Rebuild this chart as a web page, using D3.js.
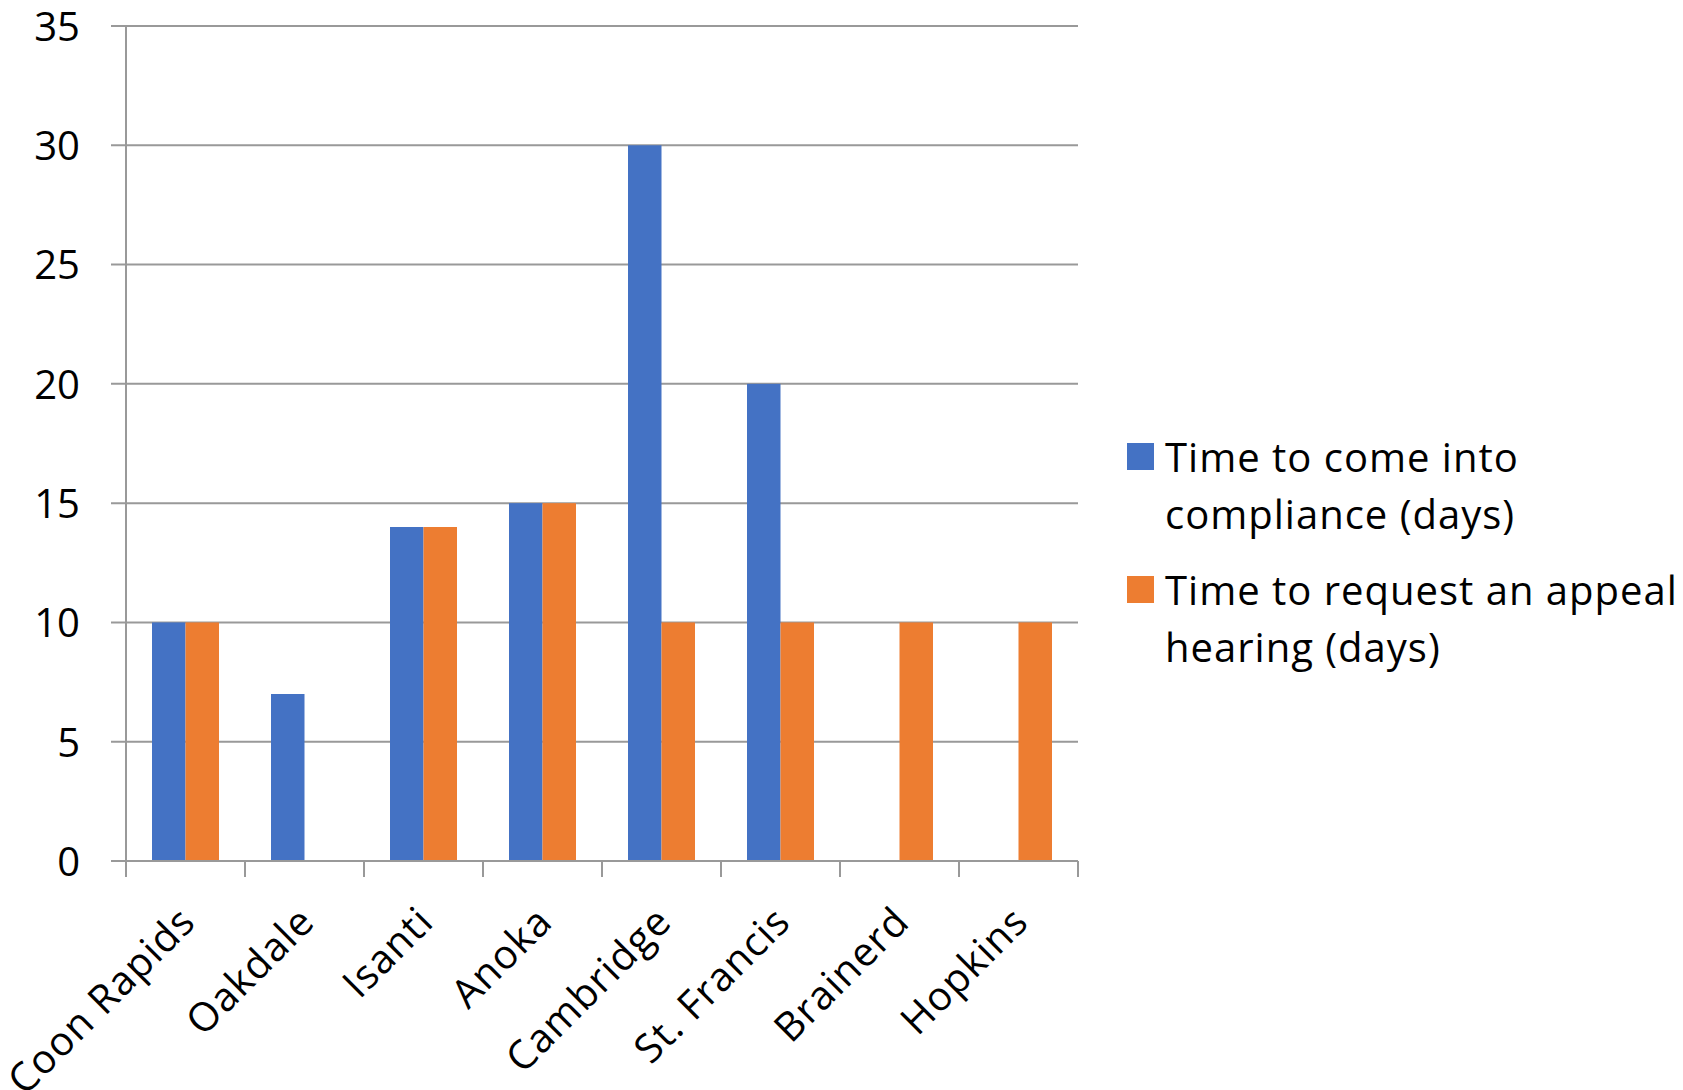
<!DOCTYPE html>
<html>
<head>
<meta charset="utf-8">
<script src="https://cdn.jsdelivr.net/npm/d3@7"></script>
<style>
  html, body { margin: 0; padding: 0; background: #ffffff; }
  svg { display: block; }
  text { font-family: "Open Sans", "Noto Sans", sans-serif; fill: #000; }
</style>
</head>
<body>
<svg id="chart" width="1683" height="1090"></svg>
<script>
// Cities along the horizontal axis
const cities = ["Coon Rapids", "Oakdale", "Isanti", "Anoka", "Cambridge", "St. Francis", "Brainerd", "Hopkins"];
// Days allowed per city (null where the city gives no figure)
const complianceDays = [10, 7, 14, 15, 30, 20, null, null];
const appealDays = [10, null, 14, 15, 10, 10, 10, 10];
const seriesNames = ["Time to come into compliance (days)", "Time to request an appeal hearing (days)"];
const seriesLegendLines = [["Time to come into", "compliance (days)"], ["Time to request an appeal", "hearing (days)"]];
const seriesColors = ["#4472C4", "#ED7D31"];
const yTicks = [0, 5, 10, 15, 20, 25, 30, 35];

const svg = d3.select("#chart");
const plot = { left: 126, right: 1078, top: 26, bottom: 861 };
const gridColor = "#999999";
const fontFamily = "'Open Sans', 'Noto Sans', sans-serif";

const x = d3.scaleBand().domain(cities).range([plot.left, plot.right]).paddingInner(0).paddingOuter(0);
const y = d3.scaleLinear().domain([0, 35]).range([plot.bottom, plot.top]);

const barW = 33.5;
const x1 = d3.scaleBand().domain([0, 1]).range([0, barW * 2]);

// Horizontal gridlines
svg.append("g").selectAll("line").data(yTicks.filter(d => d > 0)).join("line")
  .attr("x1", plot.left - 15).attr("x2", plot.right)
  .attr("y1", d => y(d)).attr("y2", d => y(d))
  .attr("stroke", gridColor).attr("stroke-width", 2);

// Bars
const rows = cities.map((c, i) => ({ city: c, values: [complianceDays[i], appealDays[i]] }));
const groups = svg.append("g").selectAll("g").data(rows).join("g")
  .attr("transform", d => `translate(${x(d.city) + (x.bandwidth() - barW * 2) / 2},0)`);
groups.selectAll("rect")
  .data(d => d.values.map((v, k) => ({ v, k })).filter(e => e.v !== null))
  .join("rect")
  .attr("x", e => x1(e.k))
  .attr("width", x1.bandwidth())
  .attr("y", e => y(e.v))
  .attr("height", e => y(0) - y(e.v))
  .attr("fill", e => seriesColors[e.k]);

// Y axis
const yAxis = d3.axisLeft(y).tickValues(yTicks).tickSize(0).tickPadding(46);
const yg = svg.append("g").attr("transform", `translate(${plot.left},0)`).call(yAxis);
yg.select(".domain").remove();
yg.selectAll("text").attr("font-size", 40).attr("font-family", fontFamily).attr("fill", "#000").attr("dy", "0.36em");
svg.append("line").attr("x1", plot.left).attr("x2", plot.left)
  .attr("y1", plot.top).attr("y2", plot.bottom + 16)
  .attr("stroke", gridColor).attr("stroke-width", 2);

// X axis: baseline and category boundary ticks
svg.append("line").attr("x1", plot.left - 15).attr("x2", plot.right)
  .attr("y1", plot.bottom).attr("y2", plot.bottom)
  .attr("stroke", gridColor).attr("stroke-width", 2);
const boundaries = cities.map(c => x(c)).concat([plot.right]);
svg.append("g").selectAll("line").data(boundaries).join("line")
  .attr("x1", d => d).attr("x2", d => d)
  .attr("y1", plot.bottom).attr("y2", plot.bottom + 16)
  .attr("stroke", gridColor).attr("stroke-width", 2);

// Rotated category labels
svg.append("g").selectAll("text").data(cities).join("text")
  .attr("transform", d => `translate(${x(d) + x.bandwidth() / 2 + 12},${plot.bottom + 63}) rotate(-45)`)
  .attr("text-anchor", "end")
  .attr("font-size", 40)
  .attr("letter-spacing", 1)
  .text(d => d);

// Legend
const legend = svg.append("g");
const legendTop = [443, 576];
seriesNames.forEach((name, k) => {
  const g = legend.append("g").attr("aria-label", name);
  g.append("rect").attr("x", 1127).attr("y", legendTop[k]).attr("width", 27).attr("height", 27)
    .attr("fill", seriesColors[k]);
  seriesLegendLines[k].forEach((line, j) => {
    g.append("text").attr("x", 1165).attr("y", legendTop[k] + 29 + j * 57)
      .attr("font-size", 40).attr("letter-spacing", 1).text(line);
  });
});
</script>
</body>
</html>
